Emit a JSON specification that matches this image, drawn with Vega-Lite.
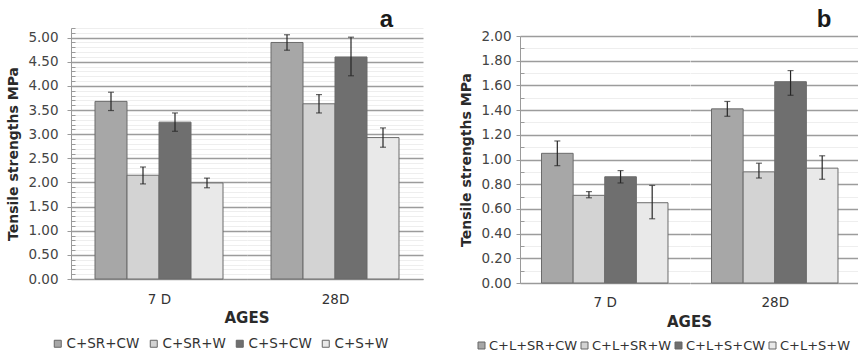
{
  "$schema": "https://vega.github.io/schema/vega-lite/v6.json",
  "background": "white",
  "padding": {"left": 6, "top": 8, "right": 0, "bottom": 0},
  "autosize": {"type": "pad"},
  "spacing": 36,
  "datasets": {
    "a": [
      {"age": "7 D", "mix": "C+SR+CW", "v": 3.68, "lo": 3.49, "hi": 3.87},
      {"age": "7 D", "mix": "C+SR+W", "v": 2.15, "lo": 1.97, "hi": 2.32},
      {"age": "7 D", "mix": "C+S+CW", "v": 3.25, "lo": 3.06, "hi": 3.44},
      {"age": "7 D", "mix": "C+S+W", "v": 1.99, "lo": 1.89, "hi": 2.09},
      {"age": "28D", "mix": "C+SR+CW", "v": 4.9, "lo": 4.74, "hi": 5.06},
      {"age": "28D", "mix": "C+SR+W", "v": 3.63, "lo": 3.44, "hi": 3.82},
      {"age": "28D", "mix": "C+S+CW", "v": 4.6, "lo": 4.21, "hi": 5.01},
      {"age": "28D", "mix": "C+S+W", "v": 2.93, "lo": 2.73, "hi": 3.13}
    ],
    "b": [
      {"age": "7 D", "mix": "C+L+SR+CW", "v": 1.05, "lo": 0.95, "hi": 1.15},
      {"age": "7 D", "mix": "C+L+SR+W", "v": 0.71, "lo": 0.69, "hi": 0.74},
      {"age": "7 D", "mix": "C+L+S+CW", "v": 0.86, "lo": 0.81, "hi": 0.91},
      {"age": "7 D", "mix": "C+L+S+W", "v": 0.65, "lo": 0.52, "hi": 0.79},
      {"age": "28D", "mix": "C+L+SR+CW", "v": 1.41, "lo": 1.35, "hi": 1.47},
      {"age": "28D", "mix": "C+L+SR+W", "v": 0.9, "lo": 0.85, "hi": 0.97},
      {"age": "28D", "mix": "C+L+S+CW", "v": 1.63, "lo": 1.52, "hi": 1.72},
      {"age": "28D", "mix": "C+L+S+W", "v": 0.93, "lo": 0.84, "hi": 1.03}
    ]
  },
  "hconcat": [
    {
      "data": {"name": "a"},
      "spacing": 0,
      "bounds": "flush",
      "hconcat": [
        {
          "width": 176,
          "height": 251,
          "transform": [{"filter": "datum.age === '7 D'"}],
          "title": {"text": "AGES", "orient": "bottom", "anchor": "end", "align": "center", "frame": "group", "offset": 5, "font": "DejaVu Sans", "fontSize": 15, "fontWeight": "bold", "color": "#2a2a2a"},
          "layer": [
            {
              "mark": {"type": "bar", "stroke": "#6b6b6b", "strokeWidth": 1},
              "encoding": {
                "x": {
                  "field": "mix", "type": "nominal",
                  "scale": {"domain": ["C+SR+CW", "C+SR+W", "C+S+CW", "C+S+W"], "paddingInner": 0, "paddingOuter": 0.75},
                  "axis": {"title": "7 D", "labels": false, "ticks": false, "domainColor": "#9a9a9a", "titleFont": "DejaVu Sans", "titleFontSize": 13.5, "titleFontWeight": "normal", "titleColor": "#333", "titlePadding": 13}
                },
                "y": {
                  "field": "v", "type": "quantitative",
                  "scale": {"domain": [0, 5.2], "nice": false},
                  "axis": {
                    "title": "Tensile strengths MPa",
                    "values": [0,0.1,0.2,0.3,0.4,0.5,0.6,0.7,0.8,0.9,1,1.1,1.2,1.3,1.4,1.5,1.6,1.7,1.8,1.9,2,2.1,2.2,2.3,2.4,2.5,2.6,2.7,2.8,2.9,3,3.1,3.2,3.3,3.4,3.5,3.6,3.7,3.8,3.9,4,4.1,4.2,4.3,4.4,4.5,4.6,4.7,4.8,4.9,5,5.1,5.2],
                    "labelExpr": "abs(datum.value * 2 - round(datum.value * 2)) < 0.001 ? format(datum.value, '.2f') : ''",
                    "labelFont": "DejaVu Sans", "labelFontSize": 13.5, "labelColor": "#444", "labelPadding": 9,
                    "tickSize": {"condition": {"test": "abs(datum.value * 2 - round(datum.value * 2)) < 0.001", "value": 4}, "value": -4},
                    "tickColor": "#9a9a9a",
                    "domainColor": "#9a9a9a",
                    "gridColor": {"condition": {"test": "abs(datum.value * 2 - round(datum.value * 2)) < 0.001", "value": "#9c9c9c"}, "value": "#eeeeee"},
                    "gridWidth": {"condition": {"test": "abs(datum.value * 2 - round(datum.value * 2)) < 0.001", "value": 1.3}, "value": 1},
                    "titleFont": "DejaVu Sans", "titleFontSize": 14, "titleFontWeight": "bold", "titleColor": "#2a2a2a", "titlePadding": 7
                  }
                },
                "color": {
                  "field": "mix", "type": "nominal",
                  "scale": {"domain": ["C+SR+CW", "C+SR+W", "C+S+CW", "C+S+W"], "range": ["#a7a7a7", "#d3d3d3", "#6f6f6f", "#e9e9e9"]},
                  "legend": null
                }
              }
            },
            {
              "mark": {"type": "rule", "color": "#262626", "strokeWidth": 1.2},
              "encoding": {
                "x": {"field": "mix", "type": "nominal", "axis": null},
                "y": {"field": "lo", "type": "quantitative", "axis": null}, "y2": {"field": "hi"}
              }
            },
            {
              "mark": {"type": "tick", "color": "#262626", "thickness": 1.2, "size": 6},
              "encoding": {
                "x": {"field": "mix", "type": "nominal", "axis": null},
                "y": {"field": "lo", "type": "quantitative", "axis": null}
              }
            },
            {
              "mark": {"type": "tick", "color": "#262626", "thickness": 1.2, "size": 6},
              "encoding": {
                "x": {"field": "mix", "type": "nominal", "axis": null},
                "y": {"field": "hi", "type": "quantitative", "axis": null}
              }
            }
          ],
          "resolve": {"axis": {"x": "independent", "y": "independent"}}
        },
        {
          "width": 176,
          "height": 251,
          "transform": [{"filter": "datum.age === '28D'"}],
          "title": {"text": "a", "anchor": "end", "frame": "group", "dx": -30, "offset": -4, "font": "Liberation Sans", "fontSize": 24, "fontWeight": "bold", "color": "#1a1a1a"},
          "layer": [
            {
              "mark": {"type": "bar", "stroke": "#6b6b6b", "strokeWidth": 1},
              "encoding": {
                "x": {
                  "field": "mix", "type": "nominal",
                  "scale": {"domain": ["C+SR+CW", "C+SR+W", "C+S+CW", "C+S+W"], "paddingInner": 0, "paddingOuter": 0.75},
                  "axis": {"title": "28D", "labels": false, "ticks": false, "domainColor": "#9a9a9a", "titleFont": "DejaVu Sans", "titleFontSize": 13.5, "titleFontWeight": "normal", "titleColor": "#333", "titlePadding": 13}
                },
                "y": {
                  "field": "v", "type": "quantitative",
                  "scale": {"domain": [0, 5.2], "nice": false},
                  "axis": {
                    "title": null, "labels": false, "ticks": false, "domain": false, "minExtent": 0,
                    "values": [0,0.1,0.2,0.3,0.4,0.5,0.6,0.7,0.8,0.9,1,1.1,1.2,1.3,1.4,1.5,1.6,1.7,1.8,1.9,2,2.1,2.2,2.3,2.4,2.5,2.6,2.7,2.8,2.9,3,3.1,3.2,3.3,3.4,3.5,3.6,3.7,3.8,3.9,4,4.1,4.2,4.3,4.4,4.5,4.6,4.7,4.8,4.9,5,5.1,5.2],
                    "gridColor": {"condition": {"test": "abs(datum.value * 2 - round(datum.value * 2)) < 0.001", "value": "#9c9c9c"}, "value": "#eeeeee"},
                    "gridWidth": {"condition": {"test": "abs(datum.value * 2 - round(datum.value * 2)) < 0.001", "value": 1.3}, "value": 1}
                  }
                },
                "color": {
                  "field": "mix", "type": "nominal",
                  "scale": {"domain": ["C+SR+CW", "C+SR+W", "C+S+CW", "C+S+W"], "range": ["#a7a7a7", "#d3d3d3", "#6f6f6f", "#e9e9e9"]},
                  "legend": {"orient": "none", "legendX": -196, "legendY": 309, "direction": "horizontal", "columns": 4, "gridAlign": "none", "title": null, "symbolType": "square", "symbolSize": 49, "symbolStrokeColor": "#666", "symbolStrokeWidth": 1, "labelFont": "DejaVu Sans", "labelFontSize": 13.5, "labelColor": "#333", "labelOffset": 2, "columnPadding": 7}
                }
              }
            },
            {
              "mark": {"type": "rule", "color": "#262626", "strokeWidth": 1.2},
              "encoding": {
                "x": {"field": "mix", "type": "nominal", "axis": null},
                "y": {"field": "lo", "type": "quantitative", "axis": null}, "y2": {"field": "hi"}
              }
            },
            {
              "mark": {"type": "tick", "color": "#262626", "thickness": 1.2, "size": 6},
              "encoding": {
                "x": {"field": "mix", "type": "nominal", "axis": null},
                "y": {"field": "lo", "type": "quantitative", "axis": null}
              }
            },
            {
              "mark": {"type": "tick", "color": "#262626", "thickness": 1.2, "size": 6},
              "encoding": {
                "x": {"field": "mix", "type": "nominal", "axis": null},
                "y": {"field": "hi", "type": "quantitative", "axis": null}
              }
            }
          ],
          "resolve": {"axis": {"x": "independent", "y": "independent"}}
        }
      ],
      "resolve": {"scale": {"color": "independent", "y": "independent"}, "legend": {"color": "independent"}}
    },
    {
      "data": {"name": "b"},
      "spacing": 0,
      "bounds": "flush",
      "hconcat": [
        {
          "width": 169.5,
          "height": 255,
          "transform": [{"filter": "datum.age === '7 D'"}],
          "title": {"text": "AGES", "orient": "bottom", "anchor": "end", "align": "center", "frame": "group", "offset": 6, "font": "DejaVu Sans", "fontSize": 15, "fontWeight": "bold", "color": "#2a2a2a"},
          "layer": [
            {
              "mark": {"type": "bar", "stroke": "#6b6b6b", "strokeWidth": 1},
              "encoding": {
                "x": {
                  "field": "mix", "type": "nominal",
                  "scale": {"domain": ["C+L+SR+CW", "C+L+SR+W", "C+L+S+CW", "C+L+S+W"], "paddingInner": 0, "paddingOuter": 0.68},
                  "axis": {"title": "7 D", "labels": false, "ticks": false, "domainColor": "#9a9a9a", "titleFont": "DejaVu Sans", "titleFontSize": 13.5, "titleFontWeight": "normal", "titleColor": "#333", "titlePadding": 12}
                },
                "y": {
                  "field": "v", "type": "quantitative",
                  "scale": {"domain": [0, 2], "nice": false, "range": [255, 8]},
                  "axis": {
                    "title": "Tensile strengths MPa",
                    "values": [0,0.1,0.2,0.3,0.4,0.5,0.6,0.7,0.8,0.9,1,1.1,1.2,1.3,1.4,1.5,1.6,1.7,1.8,1.9,2],
                    "labelExpr": "abs(datum.value * 5 - round(datum.value * 5)) < 0.001 ? format(datum.value, '.2f') : ''",
                    "labelFont": "DejaVu Sans", "labelFontSize": 13.5, "labelColor": "#444", "labelPadding": 5,
                    "tickSize": {"condition": {"test": "abs(datum.value * 5 - round(datum.value * 5)) < 0.001", "value": 4}, "value": -4},
                    "tickColor": "#9a9a9a",
                    "domainColor": "#9a9a9a",
                    "gridColor": {"condition": {"test": "abs(datum.value * 5 - round(datum.value * 5)) < 0.001", "value": "#9c9c9c"}, "value": "#eeeeee"},
                    "gridWidth": {"condition": {"test": "abs(datum.value * 5 - round(datum.value * 5)) < 0.001", "value": 1.3}, "value": 1},
                    "titleFont": "DejaVu Sans", "titleFontSize": 14, "titleFontWeight": "bold", "titleColor": "#2a2a2a", "titlePadding": 7
                  }
                },
                "color": {
                  "field": "mix", "type": "nominal",
                  "scale": {"domain": ["C+L+SR+CW", "C+L+SR+W", "C+L+S+CW", "C+L+S+W"], "range": ["#a7a7a7", "#d3d3d3", "#6f6f6f", "#e9e9e9"]},
                  "legend": null
                }
              }
            },
            {
              "mark": {"type": "rule", "color": "#262626", "strokeWidth": 1.2},
              "encoding": {
                "x": {"field": "mix", "type": "nominal", "axis": null},
                "y": {"field": "lo", "type": "quantitative", "axis": null}, "y2": {"field": "hi"}
              }
            },
            {
              "mark": {"type": "tick", "color": "#262626", "thickness": 1.2, "size": 6},
              "encoding": {
                "x": {"field": "mix", "type": "nominal", "axis": null},
                "y": {"field": "lo", "type": "quantitative", "axis": null}
              }
            },
            {
              "mark": {"type": "tick", "color": "#262626", "thickness": 1.2, "size": 6},
              "encoding": {
                "x": {"field": "mix", "type": "nominal", "axis": null},
                "y": {"field": "hi", "type": "quantitative", "axis": null}
              }
            }
          ],
          "resolve": {"axis": {"x": "independent", "y": "independent"}}
        },
        {
          "width": 169.5,
          "height": 255,
          "transform": [{"filter": "datum.age === '28D'"}],
          "title": {"text": "b", "anchor": "end", "frame": "group", "dx": -28, "offset": -4, "font": "Liberation Sans", "fontSize": 24, "fontWeight": "bold", "color": "#1a1a1a"},
          "layer": [
            {
              "mark": {"type": "bar", "stroke": "#6b6b6b", "strokeWidth": 1},
              "encoding": {
                "x": {
                  "field": "mix", "type": "nominal",
                  "scale": {"domain": ["C+L+SR+CW", "C+L+SR+W", "C+L+S+CW", "C+L+S+W"], "paddingInner": 0, "paddingOuter": 0.68},
                  "axis": {"title": "28D", "labels": false, "ticks": false, "domainColor": "#9a9a9a", "titleFont": "DejaVu Sans", "titleFontSize": 13.5, "titleFontWeight": "normal", "titleColor": "#333", "titlePadding": 12}
                },
                "y": {
                  "field": "v", "type": "quantitative",
                  "scale": {"domain": [0, 2], "nice": false, "range": [255, 8]},
                  "axis": {
                    "title": null, "labels": false, "ticks": false, "domain": false, "minExtent": 0,
                    "values": [0,0.1,0.2,0.3,0.4,0.5,0.6,0.7,0.8,0.9,1,1.1,1.2,1.3,1.4,1.5,1.6,1.7,1.8,1.9,2],
                    "gridColor": {"condition": {"test": "abs(datum.value * 5 - round(datum.value * 5)) < 0.001", "value": "#9c9c9c"}, "value": "#eeeeee"},
                    "gridWidth": {"condition": {"test": "abs(datum.value * 5 - round(datum.value * 5)) < 0.001", "value": 1.3}, "value": 1}
                  }
                },
                "color": {
                  "field": "mix", "type": "nominal",
                  "scale": {"domain": ["C+L+SR+CW", "C+L+SR+W", "C+L+S+CW", "C+L+S+W"], "range": ["#a7a7a7", "#d3d3d3", "#6f6f6f", "#e9e9e9"]},
                  "legend": {"orient": "none", "legendX": -215, "legendY": 311, "direction": "horizontal", "columns": 4, "gridAlign": "none", "title": null, "symbolType": "square", "symbolSize": 49, "symbolStrokeColor": "#666", "symbolStrokeWidth": 1, "labelFont": "DejaVu Sans", "labelFontSize": 13, "labelColor": "#333", "labelOffset": 1, "columnPadding": 0}
                }
              }
            },
            {
              "mark": {"type": "rule", "color": "#262626", "strokeWidth": 1.2},
              "encoding": {
                "x": {"field": "mix", "type": "nominal", "axis": null},
                "y": {"field": "lo", "type": "quantitative", "axis": null}, "y2": {"field": "hi"}
              }
            },
            {
              "mark": {"type": "tick", "color": "#262626", "thickness": 1.2, "size": 6},
              "encoding": {
                "x": {"field": "mix", "type": "nominal", "axis": null},
                "y": {"field": "lo", "type": "quantitative", "axis": null}
              }
            },
            {
              "mark": {"type": "tick", "color": "#262626", "thickness": 1.2, "size": 6},
              "encoding": {
                "x": {"field": "mix", "type": "nominal", "axis": null},
                "y": {"field": "hi", "type": "quantitative", "axis": null}
              }
            }
          ],
          "resolve": {"axis": {"x": "independent", "y": "independent"}}
        }
      ],
      "resolve": {"scale": {"color": "independent", "y": "independent"}, "legend": {"color": "independent"}}
    }
  ],
  "resolve": {"scale": {"color": "independent"}, "legend": {"color": "independent"}},
  "config": {
    "view": {"stroke": null},
    "axis": {"labelOverlap": false}
  }
}
